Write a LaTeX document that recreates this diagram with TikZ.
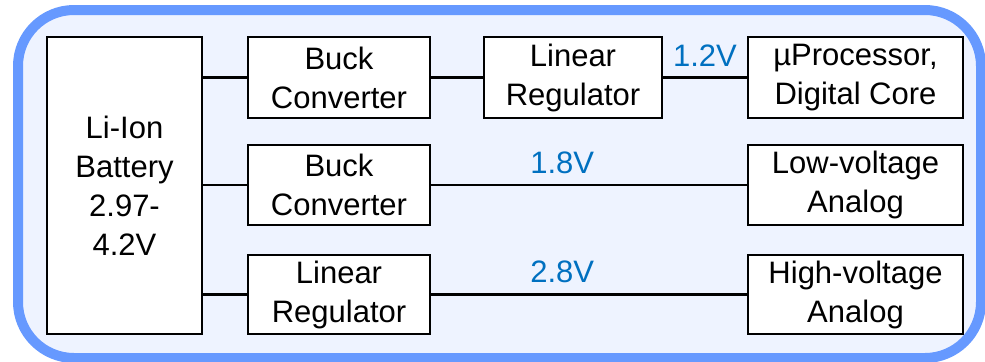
\documentclass[tikz,border=0pt]{standalone}
\usepackage{fontspec}
\setmainfont{Liberation Sans}
\definecolor{frameblue}{RGB}{102,153,255}
\definecolor{framefill}{RGB}{238,243,255}
\definecolor{voltblue}{RGB}{0,112,192}

\begin{document}
\begin{tikzpicture}[x=1bp,y=-1bp,
    every node/.style={font=\fontsize{31bp}{39bp}\selectfont},
    block/.style={draw,line width=2.6bp,fill=white,align=center,inner sep=0pt},
    wire/.style={line width=2.6bp},
    volt/.style={text=voltblue,inner sep=2bp,yshift=8bp}]

          \useasboundingbox (0,0) rectangle (985,361);
          \draw[line width=10bp,color=frameblue,fill=framefill,rounded corners=56bp]
                (18,10) rectangle (981,358);

          \coordinate (c1) at (124.5,185.5);
          \coordinate (c2) at (339,77.5);
          \coordinate (c3) at (573,77.5);
          \coordinate (c4) at (855.5,77.5);
          \coordinate (c5) at (339,185);
          \coordinate (c6) at (855.5,185);
          \coordinate (c7) at (339,294.5);
          \coordinate (c8) at (855.5,294.5);

          \node[block,minimum width=155bp,minimum height=297bp] (bat) at (c1) {Li-Ion\\Battery\\2.97-\\4.2V};
          \node[block,minimum width=182bp,minimum height=81bp] (buck1) at (c2) {Buck\\Converter};
          \node[block,minimum width=178bp,minimum height=81bp] (lin1) at (c3) {Linear\\Regulator};
          \node[block,minimum width=215bp,minimum height=81bp] (core) at (c4) {µProcessor,\\Digital Core};
          \node[block,minimum width=182bp,minimum height=80bp] (buck2) at (c5) {Buck\\Converter};
          \node[block,minimum width=215bp,minimum height=80bp] (lowa) at (c6) {Low-voltage\\Analog};
          \node[block,minimum width=182bp,minimum height=79bp] (lin2) at (c7) {Linear\\Regulator};
          \node[block,minimum width=215bp,minimum height=79bp] (higha) at (c8) {High-voltage\\Analog};

        \draw[wire] (bat.east |- buck1.west) -- (buck1.west);
        \draw[wire] (bat.east |- buck2.west) -- (buck2.west);
        \draw[wire] (bat.east |- lin2.west) -- (lin2.west);
        \draw[wire] (buck1) -- (lin1);
        \draw[wire] (lin1) -- node[volt,above] {1.2V} (core);
        \draw[wire] (buck2) -- node[volt,above,pos=0.415] {1.8V} (lowa);
        \draw[wire] (lin2) -- node[volt,above,pos=0.415] {2.8V} (higha);
        \end{tikzpicture}
\end{document}
